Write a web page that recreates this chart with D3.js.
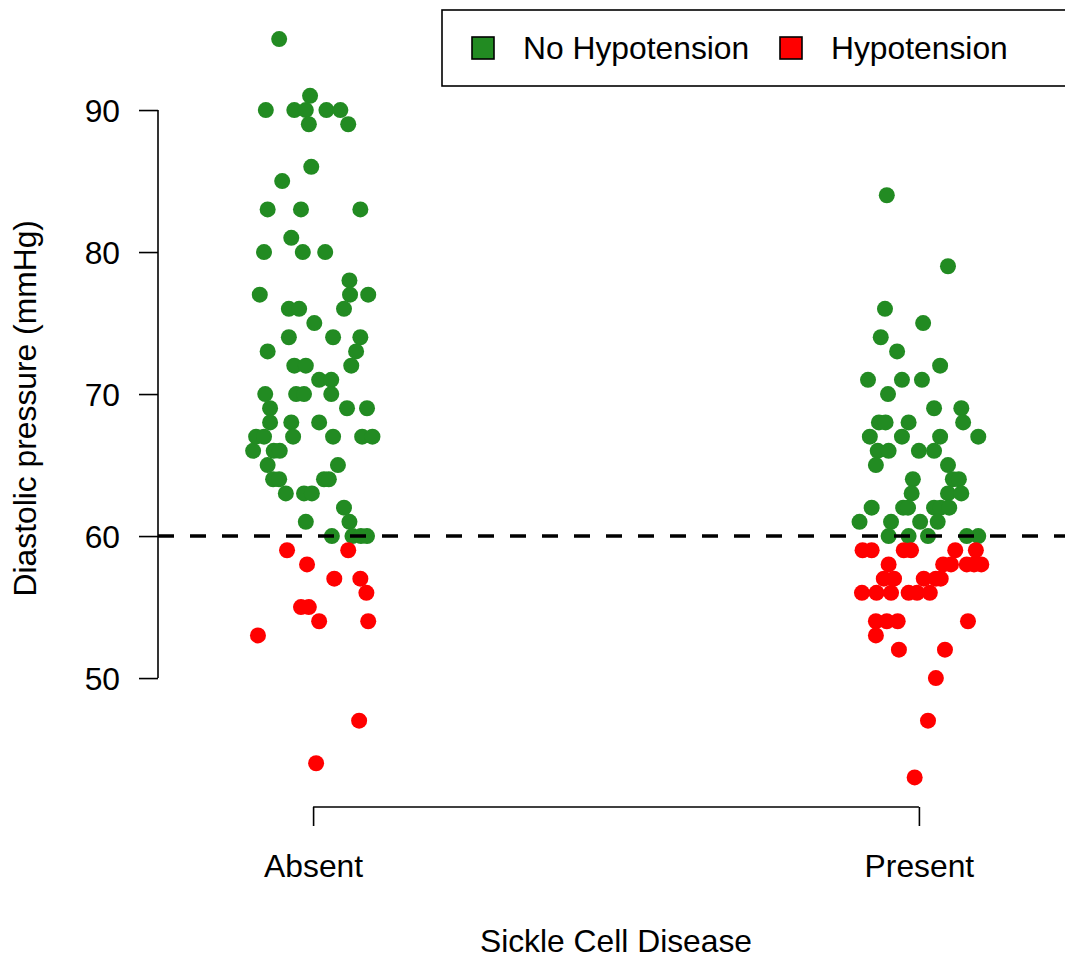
<!DOCTYPE html>
<meta charset='utf-8'>
<head>
  <title>Diastolic pressure by sickle cell disease</title>
</head>

<style>
body {
  margin: 0;
  background: white;
}

svg text {
  font-family: "Liberation Sans", Arial, Helvetica, sans-serif;
  font-size: 31.8px;
  fill: black;
}

.axis path, .axis line, .axisline {
  stroke: black;
  stroke-width: 1.6px;
  fill: none;
}

.cutoff {
  stroke: black;
  stroke-width: 3.5px;
  stroke-dasharray: 16,16;
}

.legend rect.box {
  fill: white;
  stroke: black;
  stroke-width: 1.6px;
}
</style>

<body>
  <svg width='1065' height='958'></svg>

  <script src='https://cdn.jsdelivr.net/npm/d3@7'></script>
  <script>
// categories on the x axis (plotted at 1 and 2, jittered)
var groups = ['Absent', 'Present'];
var legendLabels = ['No Hypotension', 'Hypotension'];
var yTicks = [50, 60, 70, 80, 90];
var cutoff = 60;

// [jitter, diastolic pressure]
var absentNormal = [
  [-0.056, 95], [-0.005, 91],
  [-0.078, 90], [-0.031, 90], [-0.012, 90], [0.022, 90], [0.045, 90],
  [-0.007, 89], [0.058, 89], [-0.003, 86], [-0.051, 85],
  [-0.075, 83], [-0.020, 83], [0.078, 83], [-0.036, 81],
  [-0.081, 80], [-0.017, 80], [0.020, 80], [0.060, 78],
  [-0.088, 77], [0.061, 77], [0.091, 77],
  [-0.040, 76], [-0.023, 76], [0.051, 76], [0.002, 75],
  [-0.040, 74], [0.033, 74], [0.078, 74], [-0.075, 73], [0.071, 73],
  [-0.031, 72], [-0.012, 72], [0.063, 72], [0.010, 71], [0.030, 71],
  [-0.079, 70], [-0.028, 70], [-0.015, 70], [0.030, 70],
  [-0.071, 69], [0.056, 69], [0.089, 69],
  [-0.071, 68], [-0.036, 68], [0.010, 68],
  [-0.094, 67], [-0.081, 67], [-0.033, 67], [0.033, 67], [0.081, 67], [0.098, 67],
  [-0.099, 66], [-0.065, 66], [-0.055, 66], [-0.075, 65], [0.041, 65],
  [-0.066, 64], [-0.056, 64], [0.018, 64], [0.026, 64],
  [-0.045, 63], [-0.015, 63], [-0.002, 63], [0.051, 62],
  [-0.012, 61], [0.060, 61],
  [0.031, 60], [0.065, 60], [0.079, 60], [0.089, 60]
];
var absentHypo = [
  [-0.043, 59], [0.058, 59], [-0.010, 58], [0.035, 57], [0.078, 57],
  [0.088, 56], [-0.020, 55], [-0.007, 55], [0.010, 54], [0.091, 54],
  [-0.091, 53], [0.076, 47], [0.005, 44]
];
var presentNormal = [
  [-0.053, 84], [0.048, 79], [-0.056, 76], [0.007, 75], [-0.063, 74],
  [-0.036, 73], [0.035, 72], [-0.084, 71], [-0.028, 71], [0.005, 71],
  [-0.051, 70], [0.025, 69], [0.070, 69],
  [-0.066, 68], [-0.055, 68], [-0.017, 68], [0.073, 68],
  [-0.081, 67], [-0.028, 67], [0.035, 67], [0.098, 67],
  [-0.068, 66], [-0.050, 66], [0.000, 66], [0.025, 66],
  [-0.071, 65], [0.048, 65], [-0.010, 64], [0.056, 64], [0.066, 64],
  [-0.012, 63], [0.048, 63], [0.070, 63],
  [-0.078, 62], [-0.026, 62], [-0.018, 62], [0.025, 62], [0.036, 62], [0.050, 62],
  [-0.098, 61], [-0.046, 61], [0.002, 61], [0.031, 61],
  [-0.050, 60], [-0.017, 60], [0.015, 60], [0.079, 60], [0.098, 60]
];
var presentHypo = [
  [-0.093, 59], [-0.078, 59], [-0.025, 59], [-0.013, 59], [0.060, 59], [0.094, 59],
  [-0.050, 58], [0.040, 58], [0.053, 58], [0.079, 58], [0.091, 58], [0.103, 58],
  [-0.058, 57], [-0.041, 57], [0.008, 57], [0.028, 57], [0.036, 57],
  [-0.094, 56], [-0.070, 56], [-0.046, 56], [-0.017, 56], [-0.003, 56], [0.018, 56],
  [-0.071, 54], [-0.053, 54], [-0.035, 54], [0.081, 54],
  [-0.071, 53], [-0.033, 52], [0.043, 52], [0.028, 50], [0.015, 47], [-0.007, 43]
];

var colors = ['#228B22', '#FF0000'];

// plot region (R style, 4% padding on the ranges)
var plotLeft = 158, plotRight = 1074, plotTop = 9.5, plotBottom = 807;

function pad(lo, hi) {
  var d = (hi - lo) * 0.04;
  return [lo - d, hi + d];
}

var allY = [].concat(absentNormal, absentHypo, presentNormal, presentHypo)
  .map(function(d) { return d[1]; });

var x = d3.scaleLinear().domain(pad(0.8, 2.2)).range([plotLeft, plotRight]);
var y = d3.scaleLinear().domain(pad(d3.min(allY), d3.max(allY))).range([plotBottom, plotTop]);

var svg = d3.select('svg');

// points
var sets = [
  {g: 1, c: 0, data: absentNormal},
  {g: 1, c: 1, data: absentHypo},
  {g: 2, c: 0, data: presentNormal},
  {g: 2, c: 1, data: presentHypo}
];

sets.forEach(function(s) {
  svg.append('g')
    .selectAll('circle')
    .data(s.data)
    .enter()
    .append('circle')
    .attr('cx', function(d) { return x(s.g + d[0]); })
    .attr('cy', function(d) { return y(d[1]); })
    .attr('r', 8)
    .attr('fill', colors[s.c]);
});

// cutoff line
svg.append('line')
  .attr('class', 'cutoff')
  .attr('x1', plotLeft).attr('x2', plotRight)
  .attr('y1', y(cutoff)).attr('y2', y(cutoff));

// y axis
var yAxis = svg.append('g')
  .attr('class', 'axis')
  .attr('transform', 'translate(' + plotLeft + ',0)')
  .call(d3.axisLeft(y).tickValues(yTicks).tickSize(19).tickPadding(19));
yAxis.select('.domain').remove();
yAxis.selectAll('text').attr('dy', '0.36em').style('font-size', '31.8px');
yAxis.append('line')
  .attr('class', 'axisline')
  .attr('y1', y(d3.min(yTicks))).attr('y2', y(d3.max(yTicks)));

// x axis
var xAxis = svg.append('g')
  .attr('class', 'axis')
  .attr('transform', 'translate(0,' + plotBottom + ')')
  .call(d3.axisBottom(x).tickValues([1, 2])
    .tickFormat(function(d) { return groups[d - 1]; })
    .tickSize(19));
xAxis.select('.domain').remove();
xAxis.selectAll('text').attr('y', 70).attr('dy', 0).style('font-size', '31.8px');
xAxis.append('line')
  .attr('class', 'axisline')
  .attr('x1', x(1)).attr('x2', x(2));

// axis titles
svg.append('text')
  .attr('x', (plotLeft + plotRight) / 2)
  .attr('y', 952)
  .attr('text-anchor', 'middle')
  .text('Sickle Cell Disease');

svg.append('text')
  .attr('transform', 'translate(36,' + (plotTop + plotBottom) / 2 + ') rotate(-90)')
  .attr('text-anchor', 'middle')
  .text('Diastolic pressure (mmHg)');

// legend
var legend = svg.append('g').attr('class', 'legend');
legend.append('rect')
  .attr('class', 'box')
  .attr('x', 442).attr('y', 10)
  .attr('width', 700).attr('height', 76);

var items = legend.selectAll('g.item')
  .data(legendLabels)
  .enter()
  .append('g')
  .attr('class', 'item')
  .attr('transform', function(d, i) { return 'translate(' + (483 + i * 308) + ',48)'; });

items.append('rect')
  .attr('x', -11).attr('y', -11)
  .attr('width', 22).attr('height', 22)
  .attr('fill', function(d, i) { return colors[i]; })
  .attr('stroke', 'black')
  .attr('stroke-width', 1.6);

items.append('text')
  .attr('x', 40)
  .attr('dy', '0.36em')
  .text(function(d) { return d; });
  </script>
</body>
</html>
